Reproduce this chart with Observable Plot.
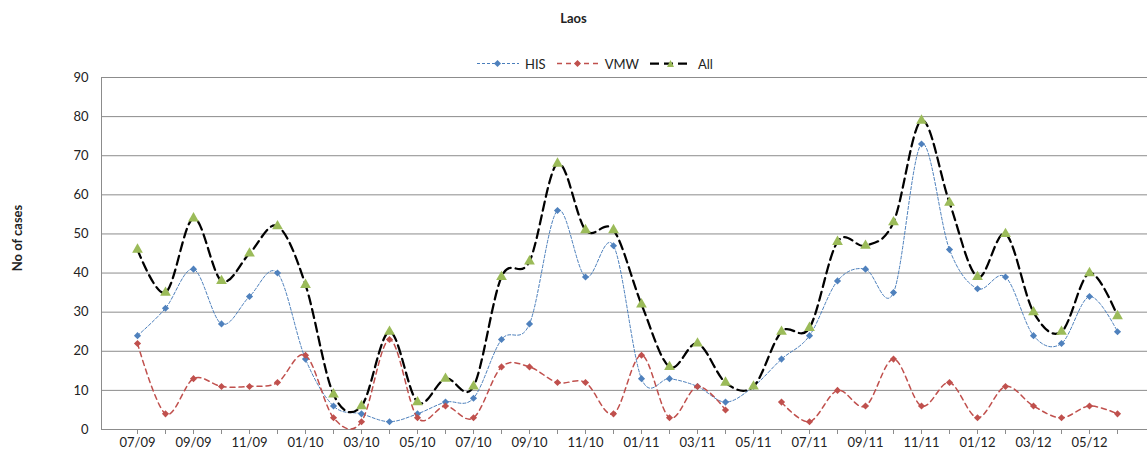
<!DOCTYPE html>
<html>
<head>
<meta charset="utf-8">
<script src="https://cdn.jsdelivr.net/npm/d3@7"></script>
<script src="https://cdn.jsdelivr.net/npm/@observablehq/plot@0.6"></script>
<style>
  html, body { margin: 0; padding: 0; background: #fff; }
  #wrap { position: relative; width: 1147px; height: 455px; font-family: Lato, "Liberation Sans", sans-serif; color: #222; overflow: hidden; }
  #wrap svg.plot { position: absolute; left: 0; top: 0; }
  #title { position: absolute; left: 0; width: 1147px; top: 10px; text-align: center; font-weight: bold; font-size: 13px; }
  #ylab { position: absolute; left: 17px; top: 238px; transform: translate(-50%, -50%) rotate(-90deg); white-space: nowrap; font-weight: bold; font-size: 13px; }
  #legend { position: absolute; top: 55px; left: 476px; display: flex; align-items: center; font-size: 13px; }
  #legend .item { display: flex; align-items: center; margin-right: 10px; }
  #legend svg { display: block; margin-right: 5px; }
</style>
</head>
<body>
<div id="wrap">
  <div id="title">Laos</div>
  <div id="ylab">No of cases</div>
  <div id="legend"></div>
</div>
<script>
const months = ["07/09","08/09","09/09","10/09","11/09","12/09",
  "01/10","02/10","03/10","04/10","05/10","06/10","07/10","08/10","09/10","10/10","11/10","12/10",
  "01/11","02/11","03/11","04/11","05/11","06/11","07/11","08/11","09/11","10/11","11/11","12/11",
  "01/12","02/12","03/12","04/12","05/12","06/12"];
const xTickLabels = ["07/09","09/09","11/09","01/10","03/10","05/10","07/10","09/10","11/10",
  "01/11","03/11","05/11","07/11","09/11","11/11","01/12","03/12","05/12"];
const yTicks = [0,10,20,30,40,50,60,70,80,90];

const his = [24,31,41,27,34,40, 18,6,4,2,4,7,8,23,27,56,39,47, 13,13,11,7,11,18,24,38,41,35,73,46, 36,39,24,22,34,25];
const vmw = [22,4,13,11,11,12, 19,3,2,23,3,6,3,16,16,12,12,4, 19,3,11,5,null,7,2,10,6,18,6,12, 3,11,6,3,6,4];
const all = [46,35,54,38,45,52, 37,9,6,25,7,13,11,39,43,68,51,51, 32,16,22,12,11,25,26,48,47,53,79,58, 39,50,30,25,40,29];

const seriesNames = ["HIS", "VMW", "All"];

const toRows = (vals) => months.map((m, i) => ({month: m, value: vals[i]}));
const hisRows = toRows(his), vmwRows = toRows(vmw), allRows = toRows(all);

const styles = {
  HIS: {stroke: "#4a7ebb", strokeWidth: 1, dash: "3,2", fill: "#4f81bd", symbol: "diamond2", r: 3.2},
  VMW: {stroke: "#c0504d", strokeWidth: 1.5, dash: "5,4", fill: "#c0504d", symbol: "diamond2", r: 3.2},
  All: {stroke: "#000000", strokeWidth: 2.25, dash: "9,5", fill: "#9bbb59", symbol: "triangle", r: 4}
};

function seriesMarks(rows, s) {
  return [
    Plot.line(rows, {x: "month", y: "value", curve: "cardinal", stroke: s.stroke, strokeWidth: s.strokeWidth, strokeDasharray: s.dash}),
    Plot.dot(rows, {x: "month", y: "value", symbol: () => s.symbol, r: s.r, fill: s.fill, stroke: "none"})
  ];
}

const chart = Plot.plot({
  width: 1147,
  height: 455,
  marginLeft: 101,
  marginRight: 0,
  marginTop: 77,
  marginBottom: 26,
  style: {fontFamily: "Lato, 'Liberation Sans', sans-serif", fontSize: "13px", color: "#222", background: "transparent"},
  x: {type: "point", domain: months, range: [116, 1138]},
  y: {domain: [0, 90]},
  symbol: {type: "identity"},
  marks: [
    Plot.gridY(yTicks, {stroke: "#8c8c8c", strokeOpacity: 1, strokeWidth: 1}),
    Plot.frame({stroke: "#8c8c8c", insetRight: -3}),
    Plot.axisY({ticks: yTicks, tickSize: 0, tickPadding: 13, label: null}),
    Plot.axisX({ticks: months, tickSize: 5, tickFormat: () => "", stroke: "#8c8c8c", label: null}),
    Plot.axisX({ticks: xTickLabels, tickSize: 0, tickPadding: 8, label: null}),
    ...seriesMarks(hisRows, styles.HIS),
    ...seriesMarks(vmwRows, styles.VMW),
    ...seriesMarks(allRows, styles.All)
  ]
});
chart.classList.add("plot");
document.getElementById("wrap").prepend(chart);

// Legend
const legend = document.getElementById("legend");
const legendShapes = {
  diamond2: '<rect x="19" y="6" width="5" height="5" transform="rotate(45 21.5 8.5)"/>',
  triangle: '<polygon points="18,12 21.5,5 25,12"/>'
};
seriesNames.forEach((name) => {
  const s = styles[name];
  const item = document.createElement("div");
  item.className = "item";
  const shape = legendShapes[s.symbol].replace("/>", ` fill="${s.fill}"/>`);
  item.innerHTML = `<svg width="44" height="17"><line x1="1" x2="43" y1="8.5" y2="8.5" stroke="${s.stroke}" stroke-width="${s.strokeWidth}" stroke-dasharray="${s.dash}"/>${shape}</svg><span>${name}</span>`;
  legend.appendChild(item);
});
</script>
</body>
</html>
